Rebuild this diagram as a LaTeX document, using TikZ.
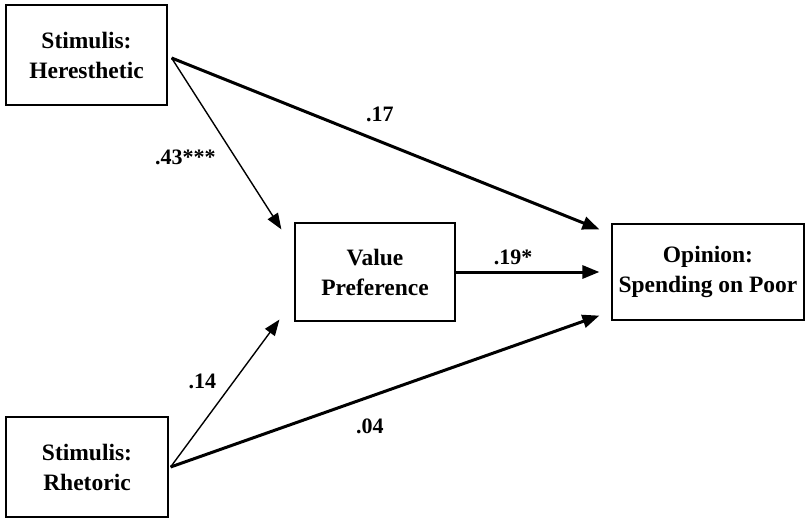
\documentclass[tikz,border=0pt]{standalone}
\usepackage{fontspec}
\setmainfont{Liberation Serif}
\usetikzlibrary{arrows.meta}

\tikzset{
  varbox/.style={draw, line width=1.2pt, align=center, font=\bfseries\fontsize{23.5}{30}\selectfont},
  thickpath/.style={line width=3pt, -{Triangle[length=17pt,width=13pt]}},
  thinpath/.style={line width=1.4pt, -{Triangle[length=16pt,width=12pt]}},
  coef/.style={font=\bfseries\fontsize{22}{24}\selectfont, inner sep=1pt}
}

\begin{document}
\begin{tikzpicture}[x=1pt,y=-1pt]
\useasboundingbox (0,0) rectangle (806,519);
\node[varbox, minimum width=161pt, minimum height=100pt] (here) at (86.5,55) {Stimulis:\\Heresthetic};
\node[varbox, minimum width=160pt, minimum height=98pt] (value) at (375,272) {Value\\Preference};
\node[varbox, minimum width=192pt, minimum height=96pt] (opin) at (708,272) {Opinion:\\Spending on Poor};
\node[varbox, minimum width=162pt, minimum height=100pt] (rhet) at (87,467) {Stimulis:\\Rhetoric};
\draw[thinpath] ([shift={(4,3)}]here.east) -- node[coef, pos=0.58, left=18pt] (c43) {.43***} ([shift={(-13,7)}]value.north west);
\draw[thickpath] ([shift={(4,3)}]here.east) -- node[coef, pos=0.487, above=17pt] (c17) {.17} ([shift={(-12,6)}]opin.north west);
\draw[thickpath] (value.east) -- node[coef, pos=0.4, above=5pt] (c19) {.19*} ([xshift=-12pt]opin.west);
\draw[thinpath] ([xshift=2pt]rhet.east) -- node[coef, pos=0.58, left=16pt] (c14) {.14} ([shift={(-15,-2)}]value.south west);
\draw[thickpath] ([xshift=2pt]rhet.east) -- node[coef, pos=0.465, below=20pt] (c04) {.04} ([shift={(-12,-5)}]opin.south west);
\end{tikzpicture}
\end{document}
